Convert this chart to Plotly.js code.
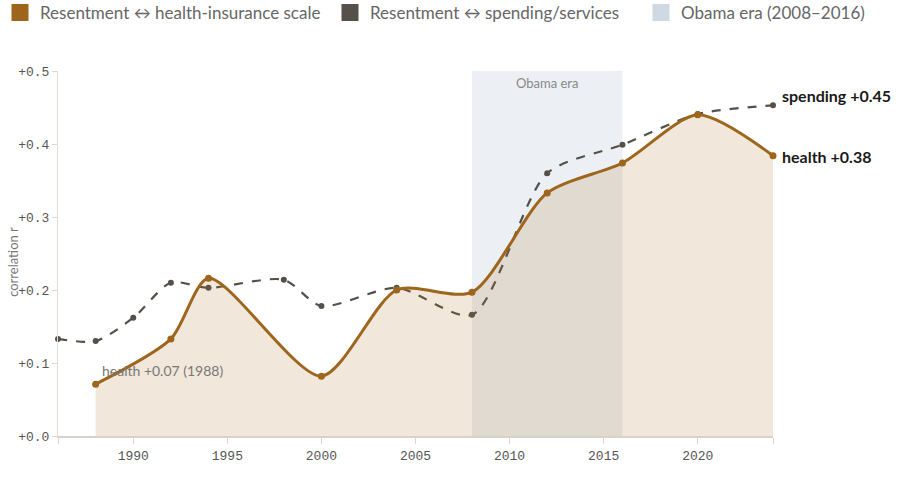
<!DOCTYPE html>
<html>
<head>
<meta charset="utf-8">
<script src="https://cdn.plot.ly/plotly-3.0.1.min.js"></script>
<style>html,body{margin:0;padding:0;background:#fff;}#chart{width:900px;height:478px;}</style>
</head>
<body>
<div id="chart"></div>
<script>
// Data
const healthYears = [1988, 1992, 1994, 2000, 2004, 2008, 2012, 2016, 2020, 2024];
const healthR     = [0.071, 0.133, 0.216, 0.082, 0.200, 0.197, 0.333, 0.374, 0.440, 0.384];
const spendYears  = [1986, 1988, 1990, 1992, 1994, 1998, 2000, 2004, 2008, 2012, 2016, 2020, 2024];
const spendR      = [0.133, 0.130, 0.162, 0.210, 0.203, 0.214, 0.178, 0.203, 0.166, 0.360, 0.399, 0.441, 0.453];
const xTickVals   = [1986, 1990, 1995, 2000, 2005, 2010, 2015, 2020, 2024];
const xTickText   = ['', '1990', '1995', '2000', '2005', '2010', '2015', '2020', ''];
const yTickVals   = [0, 0.1, 0.2, 0.3, 0.4, 0.5];
const yTickText   = ['+0.0', '+0.1', '+0.2', '+0.3', '+0.4', '+0.5'];
const obamaSpan   = [2008, 2016];
const seriesNames = ['Resentment \u2194 health-insurance scale', 'Resentment \u2194 spending/services', 'Obama era (2008\u20132016)'];

const healthColor = '#9e651c';
const spendColor  = '#555049';
const obamaColor  = '#cfd9e4';

const traces = [
  {
    x: spendYears, y: spendR, type: 'scatter', mode: 'lines+markers',
    line: {color: spendColor, width: 2.2, dash: 'dash', shape: 'spline', smoothing: 0.75},
    marker: {color: spendColor, size: 6},
    cliponaxis: false, showlegend: false, hoverinfo: 'x+y'
  },
  {
    x: healthYears, y: healthR, type: 'scatter', mode: 'lines+markers',
    fill: 'tozeroy', fillcolor: 'rgba(166,107,30,0.16)',
    line: {color: healthColor, width: 3, shape: 'spline', smoothing: 0.75},
    marker: {color: healthColor, size: 7},
    cliponaxis: false, showlegend: false, hoverinfo: 'x+y'
  },
  // legend swatches (one legend each, so they sit on one row like the reference)
  {x: [null], y: [null], type: 'bar', name: seriesNames[0], legend: 'legend',
   marker: {color: healthColor, line: {color: healthColor, width: 8}}, showlegend: true},
  {x: [null], y: [null], type: 'bar', name: seriesNames[1], legend: 'legend2',
   marker: {color: spendColor, line: {color: spendColor, width: 8}}, showlegend: true},
  {x: [null], y: [null], type: 'bar', name: seriesNames[2], legend: 'legend3',
   marker: {color: obamaColor, line: {color: obamaColor, width: 8}}, showlegend: true}
];

const lastH = healthR[healthR.length - 1];
const lastS = spendR[spendR.length - 1];
const lastYear = healthYears[healthYears.length - 1];

function legendAt(xpx) {
  return {
    orientation: 'h', x: xpx / 900, xref: 'container', xanchor: 'left',
    y: 1 - 13 / 478, yref: 'container', yanchor: 'middle',
    font: {size: 17, color: '#666', family: 'Lato, "Noto Sans", sans-serif'},
    itemwidth: 30, bgcolor: 'rgba(0,0,0,0)', borderwidth: 0
  };
}

const layout = {
  width: 900, height: 478,
  margin: {l: 58, r: 127, t: 71, b: 42},
  paper_bgcolor: '#ffffff', plot_bgcolor: '#ffffff',
  font: {family: 'Lato, "Noto Sans", sans-serif', color: '#555'},
  showlegend: true,
  legend: legendAt(-8),
  legend2: legendAt(330),
  legend3: legendAt(641),
  xaxis: {
    range: [1986, 2024], tickmode: 'array', tickvals: xTickVals, ticktext: xTickText,
    showgrid: false, zeroline: false, showline: true, linecolor: '#d9d2c6', linewidth: 2,
    ticks: 'outside', ticklen: 6, tickcolor: '#ddd8cf', tickwidth: 1,
    tickfont: {family: '"Liberation Mono", "DejaVu Sans Mono", monospace', size: 13, color: '#555'},
    fixedrange: true
  },
  yaxis: {
    range: [0, 0.5], tickmode: 'array', tickvals: yTickVals, ticktext: yTickText,
    showgrid: false, zeroline: false, showline: true, linecolor: '#e2ddd4', linewidth: 1,
    ticks: 'outside', ticklen: 5, tickcolor: '#ddd8cf', tickwidth: 1,
    tickfont: {family: '"Liberation Mono", "DejaVu Sans Mono", monospace', size: 13, color: '#555'},
    fixedrange: true
  },
  shapes: [{
    type: 'rect', xref: 'x', yref: 'paper', x0: obamaSpan[0], x1: obamaSpan[1], y0: 0, y1: 1,
    fillcolor: 'rgba(207,217,228,0.4)', line: {width: 0}, layer: 'below'
  }],
  annotations: [
    {text: 'correlation r', xref: 'paper', yref: 'paper', x: -0.063, y: 0.477, textangle: -90,
     showarrow: false, xanchor: 'center', yanchor: 'middle', font: {size: 13, color: '#777'}},
    {text: 'Obama era', xref: 'x', yref: 'paper', x: (obamaSpan[0] + obamaSpan[1]) / 2, y: 1, yanchor: 'top', yshift: -2,
     showarrow: false, font: {size: 13, color: '#888'}},
    {text: 'health +0.07 (1988)', xref: 'x', yref: 'y', x: healthYears[0], y: healthR[0], xanchor: 'left', yanchor: 'middle',
     xshift: 4, yshift: 14, showarrow: false, font: {size: 14, color: '#777'}},
    {text: '<b>spending +' + lastS.toFixed(2) + '</b>', xref: 'x', yref: 'y', x: lastYear, y: lastS,
     xanchor: 'left', yanchor: 'middle', xshift: 7, yshift: 10, showarrow: false, font: {size: 16, color: '#1a1a1a'}},
    {text: '<b>health +' + lastH.toFixed(2) + '</b>', xref: 'x', yref: 'y', x: lastYear, y: lastH,
     xanchor: 'left', yanchor: 'middle', xshift: 7, yshift: -1, showarrow: false, font: {size: 16, color: '#1a1a1a'}}
  ]
};

Plotly.newPlot('chart', traces, layout, {displayModeBar: false, staticPlot: true});
</script>
</body>
</html>
